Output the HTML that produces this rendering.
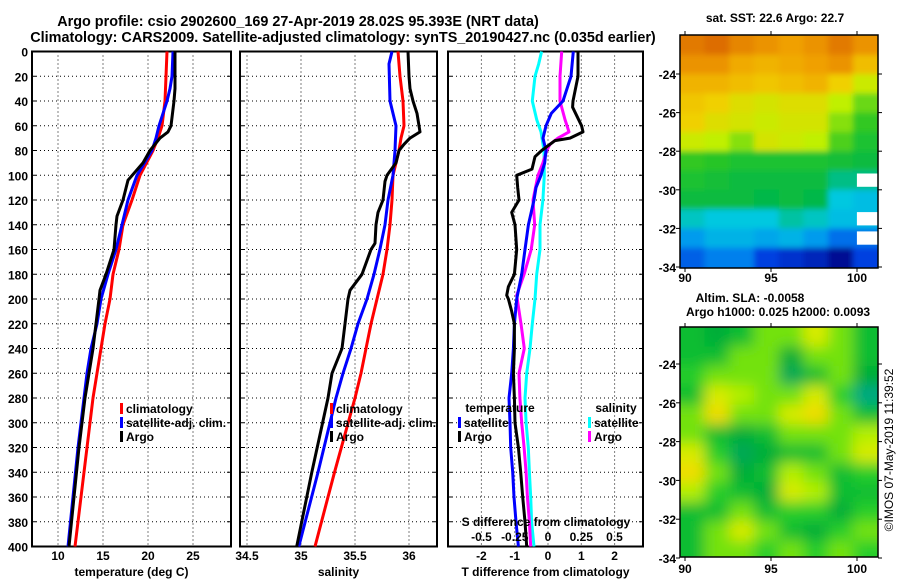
<!DOCTYPE html>
<html><head><meta charset="utf-8"><style>
html,body{margin:0;padding:0;background:#fff;}
svg{display:block;font-family:"Liberation Sans",Arial,sans-serif;font-weight:bold;}
text{fill:#000;}
</style></head><body>
<svg id="chart" width="900" height="580" viewBox="0 0 900 580" xmlns="http://www.w3.org/2000/svg">
<defs>
<clipPath id="clipSst"><rect x="680" y="35" width="198" height="233"/></clipPath>
<clipPath id="clipSla"><rect x="680" y="327" width="198" height="230"/></clipPath>
<filter id="blurSst" x="-10%" y="-10%" width="120%" height="120%"><feGaussianBlur stdDeviation="3"/></filter>
<filter id="blurSla" x="-10%" y="-10%" width="120%" height="120%"><feGaussianBlur stdDeviation="7"/></filter>
</defs>
<text x="298" y="26" font-size="14.4" text-anchor="middle">Argo profile: csio 2902600_169 27-Apr-2019 28.02S 95.393E (NRT data)</text>
<text x="343" y="42" font-size="14.4" text-anchor="middle">Climatology: CARS2009. Satellite-adjusted climatology: synTS_20190427.nc (0.035d earlier)</text>
<g id="g1"></g>
<g id="g2"></g>
<g id="g3"></g>
<g id="g4"></g>
<g id="g5"></g>
<text transform="translate(893,450) rotate(-90)" font-size="12" font-weight="normal" text-anchor="middle">©IMOS 07-May-2019 11:39:52</text>
</svg>
<script>
// ---- profile data (depth m) ----
const tClimDepth=[0,20,40,60,70,80,100,120,140,160,180,200,220,240,260,280,320,360,400];
const tClimVal=[22.11,22.0,21.89,21.56,21.11,20.56,19.11,18.22,17.22,16.78,16.11,15.78,15.22,14.78,14.33,13.89,13.22,12.56,11.89];
const tSatDepth=[0,20,30,40,50,60,70,80,100,120,140,160,180,200,220,240,260,280,320,360,400];
const tSatVal=[22.78,22.67,22.44,22.11,21.67,21.22,20.89,20.44,18.78,17.78,17.11,16.44,15.56,14.78,14.33,13.67,13.22,12.89,12.22,11.67,11.11];
const tArgoDepth=[0,30,40,60,65,70,80,90,104,120,133,140,160,180,193,200,220,240,260,280,320,360,400];
const tArgoVal=[23.0,23.0,22.89,22.56,22.22,21.33,20.22,19.44,17.78,17.22,16.56,16.44,16.22,15.33,14.67,14.56,14.22,13.89,13.44,13.0,12.33,11.78,11.22];
const sClimDepth=[0,20,40,60,70,80,100,120,140,160,180,200,220,240,260,280,340,400];
const sClimVal=[35.898,35.917,35.944,35.954,35.926,35.907,35.852,35.843,35.824,35.796,35.759,35.704,35.648,35.602,35.556,35.5,35.31,35.13];
const sSatDepth=[0,10,40,50,60,80,100,120,140,160,180,200,220,240,260,280,340,400];
const sSatVal=[35.843,35.815,35.824,35.852,35.880,35.870,35.852,35.806,35.778,35.731,35.676,35.611,35.528,35.463,35.389,35.324,35.157,34.98];
const sArgoDepth=[0,20,30,40,50,60,65,70,75,80,90,100,105,120,130,140,155,160,180,193,200,220,240,260,280,340,400];
const sArgoVal=[35.991,36.0,36.009,36.037,36.074,36.093,36.102,36.009,35.954,35.907,35.88,35.796,35.778,35.759,35.713,35.694,35.685,35.648,35.565,35.454,35.435,35.407,35.380,35.287,35.25,35.1,34.96];
const dtArgoDepth=[0,20,40,45,60,65,70,72,80,85,95,100,110,120,130,140,160,180,190,197,200,210,220,240,260,280,300,320,340,360,380,400];
const dtArgoVal=[0.90,0.90,0.75,0.74,1.01,1.05,0.66,0.21,-0.19,-0.39,-0.48,-0.94,-0.91,-0.87,-1.09,-0.99,-0.94,-1.01,-1.19,-1.24,-1.19,-1.09,-1.01,-1.01,-1.04,-1.01,-0.99,-0.89,-0.82,-0.76,-0.69,-0.64];
const dtSatDepth=[0,20,40,50,60,70,80,90,100,110,120,140,160,180,200,220,240,260,280,300,320,340,360,380,400];
const dtSatVal=[0.76,0.69,0.45,0.10,-0.06,-0.15,-0.06,-0.10,-0.21,-0.36,-0.42,-0.59,-0.69,-0.79,-0.94,-1.01,-1.04,-1.09,-1.17,-1.14,-1.12,-1.06,-1.02,-0.96,-0.89];
const dsArgoDepth=[0,20,40,55,65,70,75,80,90,100,120,140,160,180,197,220,240,260,280,300,320,340,360,380,400];
const dsArgoVal=[0.103,0.09,0.09,0.128,0.158,0.075,0.015,-0.01,-0.038,-0.075,-0.113,-0.10,-0.126,-0.18,-0.235,-0.203,-0.178,-0.218,-0.211,-0.198,-0.18,-0.165,-0.155,-0.14,-0.13];
const dsSatDepth=[0,10,20,40,55,65,80,100,120,140,160,180,200,220,240,260,280,300,320,340,360,380,400];
const dsSatVal=[-0.048,-0.07,-0.098,-0.118,-0.085,-0.053,-0.03,-0.028,-0.038,-0.06,-0.06,-0.085,-0.098,-0.118,-0.135,-0.16,-0.173,-0.165,-0.148,-0.14,-0.13,-0.123,-0.105];
const depthTicks=[0,20,40,60,80,100,120,140,160,180,200,220,240,260,280,300,320,340,360,380,400];
const tTicks=[10,15,20,25];
const sTicks=[34.5,35,35.5,36];
const dtTicks=[-2,-1,0,1,2];
const dsTicks=[-0.5,-0.25,0,0.25,0.5];
const dsTickLabels=["-0.5","-0.25","0","0.25","0.5"];
// ---- map data ----
const sstGrid=[
[23.8,23.9,23.7,23.6,23.5,23.6,23.8,23.6],
[23.6,23.6,23.4,23.3,23.4,23.5,23.6,23.2],
[23.3,23.3,23.2,23.1,23.2,23.3,23.0,22.6],
[23.1,23.0,22.8,22.7,22.8,22.8,22.5,22.2],
[23.0,22.8,22.7,22.6,22.7,22.7,22.3,22.0],
[22.6,22.5,22.3,22.7,22.6,22.5,22.1,21.8],
[22.0,21.9,21.8,21.8,21.8,21.8,21.7,21.6],
[21.8,21.7,21.6,21.6,21.6,21.6,21.3,null],
[21.6,21.6,21.6,21.5,21.6,21.5,21.0,20.9],
[21.1,21.0,21.0,21.0,21.2,21.1,20.9,null],
[20.6,20.8,20.8,20.7,20.8,20.6,20.3,null],
[20.2,20.4,20.4,20.0,19.9,19.8,19.6,20.0]];
const slaGrid=[
[0,-0.5,0,1,1,2,1,0],
[0,0,1,1,-0.5,1,1,0],
[0.5,1,1,1,-1,0,1,-0.5],
[0,2,1.5,1,1,2,0.5,-1.5],
[1,2.5,1,1,2,2.5,1,0],
[1,0,-0.5,0,1,1,1,1.5],
[2,0.5,-1,-0.5,0,0,1,2],
[2.5,1,-0.5,0,1.5,1,0,0.5],
[1.5,0.5,0,-0.5,2,1.5,0,0],
[0,0,1,0,0.5,0.5,-0.5,0.5],
[0,1,2,1,0,-0.5,0.5,1],
[0,1,1,0.5,1,0.5,1,0.5]];
const latTicks=[-24,-26,-28,-30,-32,-34];
const lonTicks=[90,95,100];

const NS="http://www.w3.org/2000/svg";
function mk(tag,attrs,parent){const e=document.createElementNS(NS,tag);for(const k in attrs)e.setAttribute(k,attrs[k]);parent.appendChild(e);return e;}
function txt(parent,x,y,s,anchor,size){const t=mk('text',{x:x,y:y,'text-anchor':anchor||'middle','font-size':size||12},parent);t.textContent=s;return t;}
const yD=d=>51.5+d*1.2375;

function panel(g,x0,x1,xs,ticks,labels,title,showY){
  depthTicks.forEach(d=>{if(d>0&&d<400){const l=mk('line',{x1:x0,x2:x1,y1:yD(d),y2:yD(d),stroke:'#000','stroke-width':1,'stroke-dasharray':'1,3'},g);
  }});
  ticks.forEach((v,i)=>{const x=xs(v);if(x>x0+2&&x<x1-2){const l=mk('line',{x1:x,x2:x,y1:yD(0),y2:yD(400),stroke:'#000','stroke-width':1,'stroke-dasharray':'1,3'},g);
  }
  const t=txt(g,x,560,labels[i]);});
  const r=mk('rect',{x:x0,y:yD(0),width:x1-x0,height:yD(400)-yD(0),fill:'none',stroke:'#000','stroke-width':2},g);
  
  depthTicks.forEach(d=>{mk('line',{x1:x0,x2:x0+4,y1:yD(d),y2:yD(d),stroke:'#000','stroke-width':1},g);mk('line',{x1:x1-4,x2:x1,y1:yD(d),y2:yD(d),stroke:'#000','stroke-width':1},g);
   if(showY){const t=txt(g,x0-4,yD(d)+5,String(d),'end');}});
  const tt=txt(g,(x0+x1)/2,576,title);
}
function line(g,xs,depths,vals,color,name){
  const pts=depths.map((d,i)=>xs(vals[i]).toFixed(1)+','+yD(d).toFixed(1)).join(' ');
  const p=mk('polyline',{points:pts,fill:'none',stroke:color,'stroke-width':3,'stroke-linejoin':'round'},g);
  
}
function legend(g,x,y,color,label){
  const b=mk('rect',{x:x,y:y-9,width:3,height:11,fill:color},g);
  
  const t=txt(g,x+6,y+1,label,'start');
}
const g1=document.getElementById('g1');const xT=v=>58+(v-10)*9;
panel(g1,32,231,xT,tTicks,tTicks.map(String),'temperature (deg C)',true);
line(g1,xT,tClimDepth,tClimVal,'#ff0000','temp-climatology-line');
line(g1,xT,tSatDepth,tSatVal,'#0000ff','temp-satellite-line');
line(g1,xT,tArgoDepth,tArgoVal,'#000000','temp-argo-line');
legend(g1,120,412,'#ff0000','climatology');legend(g1,120,426,'#0000ff','satellite-adj. clim.');legend(g1,120,440,'#000','Argo');
const g2=document.getElementById('g2');const xS=v=>301+(v-35)*108;
panel(g2,240,437,xS,sTicks,sTicks.map(String),'salinity',false);
line(g2,xS,sClimDepth,sClimVal,'#ff0000','sal-climatology-line');
line(g2,xS,sSatDepth,sSatVal,'#0000ff','sal-satellite-line');
line(g2,xS,sArgoDepth,sArgoVal,'#000000','sal-argo-line');
legend(g2,330,412,'#ff0000','climatology');legend(g2,330,426,'#0000ff','satellite-adj. clim.');legend(g2,330,440,'#000','Argo');
const g3=document.getElementById('g3');const xdT=v=>548+v*33.3;const xdS=v=>548+v*133;
panel(g3,448,643,xdT,dtTicks,dtTicks.map(String),'T difference from climatology',false);
line(g3,xdS,dsSatDepth,dsSatVal,'#00ffff','sdiff-satellite-line');
line(g3,xdS,dsArgoDepth,dsArgoVal,'#ff00ff','sdiff-argo-line');
line(g3,xdT,dtSatDepth,dtSatVal,'#0000ff','tdiff-satellite-line');
line(g3,xdT,dtArgoDepth,dtArgoVal,'#000000','tdiff-argo-line');
let h=txt(g3,500,412,'temperature');
h=txt(g3,616,412,'salinity');
legend(g3,458,426,'#0000ff','satellite');legend(g3,458,440,'#000','Argo');
legend(g3,588,426,'#00ffff','satellite');legend(g3,588,440,'#ff00ff','Argo');
h=txt(g3,546,526,'S difference from climatology');
dsTicks.forEach((v,i)=>{const t=txt(g3,xdS(v),541,dsTickLabels[i]);});

function sstColor(v){const st=[[19.5,[0,0,128]],[20.0,[0,64,224]],[20.5,[0,144,240]],[21.0,[0,200,224]],[21.5,[0,184,72]],[22.0,[48,200,32]],[22.5,[192,240,0]],[23.0,[240,208,0]],[23.5,[240,160,0]],[24.0,[216,96,0]]];
 if(v<=st[0][0])return 'rgb('+st[0][1]+')';for(let i=1;i<st.length;i++){if(v<=st[i][0]){const f=(v-st[i-1][0])/(st[i][0]-st[i-1][0]);const c=st[i-1][1].map((a,k)=>Math.round(a+(st[i][1][k]-a)*f));return 'rgb('+c+')';}}return 'rgb('+st[st.length-1][1]+')';}
function slaColor(v){v=v-0.35;const st=[[-2,[0,168,144]],[-1,[0,168,56]],[0,[16,200,48]],[1,[168,240,0]],[2,[240,232,0]],[3,[240,160,0]]];
 if(v<=st[0][0])return 'rgb('+st[0][1]+')';
 for(let i=1;i<st.length;i++){if(v<=st[i][0]){const f=Math.max(0,(v-st[i-1][0])/(st[i][0]-st[i-1][0]));const c=st[i-1][1].map((a,k)=>Math.round(a+(st[i][1][k]-a)*f));return 'rgb('+c+')';}}return 'rgb('+st[st.length-1][1]+')';}
function map(g,fy,fx,top,bot,grid,colorFn,latTop,cellName,labY,clipId,blurId){
  const L=680,R=878;
  const cols=grid[0].length;
  const lonStep=(101.2-89.7)/cols;
  const outer=mk('g',{'clip-path':'url(#'+clipId+')'},g);
  
  const inner=mk('g',{filter:'url(#'+blurId+')'},outer);
  const holes=mk('g',{},outer);
  grid.forEach((row,r)=>row.forEach((v,c)=>{
    // extend edge cells beyond frame so blur doesn't fade at edges
    let y0=fy(latTop-r),y1=fy(latTop-r-1);
    let x0=fx(89.7+c*lonStep),x1=fx(89.7+(c+1)*lonStep);
    if(r===0)y0-=20;if(r===grid.length-1)y1+=20;if(c===0)x0-=20;if(c===cols-1)x1+=20;
    const fill=v===null?colorFn(row[c-1]):colorFn(v);
    const cell=mk('rect',{x:x0.toFixed(1),y:y0.toFixed(1),width:(x1-x0+0.6).toFixed(1),height:(y1-y0+0.6).toFixed(1),fill:fill},inner);
    
    if(v===null){const hw=mk('rect',{x:(x0+4).toFixed(1),y:(fy(latTop-r)+3).toFixed(1),width:(x1-x0-2).toFixed(1),height:(fy(latTop-r-1)-fy(latTop-r)-6).toFixed(1),fill:'#ffffff'},holes);
      }
  }));
  const fr=mk('rect',{x:L,y:top,width:R-L,height:bot-top,fill:'none',stroke:'#000','stroke-width':1.5},g);
  
  latTicks.forEach(la=>{const y=fy(la);mk('line',{x1:L-4,x2:L,y1:y,y2:y,stroke:'#000'},g);mk('line',{x1:R,x2:R+4,y1:y,y2:y,stroke:'#000'},g);
   const t=txt(g,L-4,y+5,String(la),'end');});
  lonTicks.forEach(lo=>{const x=fx(lo);mk('line',{x1:x,x2:x,y1:bot,y2:bot+4,stroke:'#000'},g);mk('line',{x1:x,x2:x,y1:top-4,y2:top,stroke:'#000'},g);
   const t=txt(g,x,labY,String(lo));});
}
const fx=lo=>685+(lo-90)*17.2;
const g4=document.getElementById('g4');
map(g4,la=>74+(-24-la)*19.3,fx,35,268,sstGrid,sstColor,-22,'sst-cell',282,'clipSst','blurSst');
h=txt(g4,775,22,'sat. SST: 22.6 Argo: 22.7');
const g5=document.getElementById('g5');
map(g5,la=>364+(-24-la)*19.4,fx,327,557,slaGrid,slaColor,-22.1,'sla-cell',573,'clipSla','blurSla');
h=txt(g5,750,302,'Altim. SLA: -0.0058');
h=txt(g5,778,316,'Argo h1000: 0.025 h2000: 0.0093');
</script>
</body></html>
